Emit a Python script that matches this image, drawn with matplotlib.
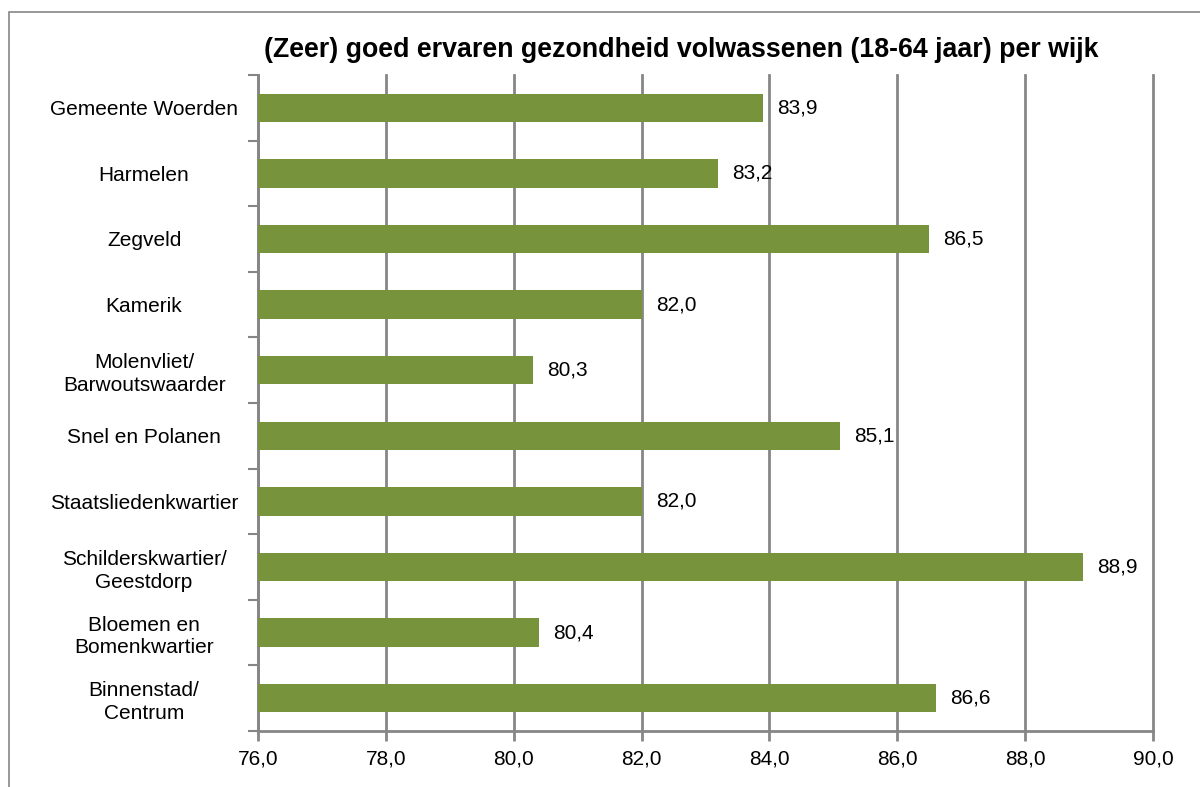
import numpy as np
import matplotlib.pyplot as plt
from matplotlib.patches import Rectangle

plt.rcParams['font.family'] = ['Liberation Sans', 'DejaVu Sans']

# data
wijken = ['Gemeente Woerden', 'Harmelen', 'Zegveld', 'Kamerik',
          'Molenvliet/\nBarwoutswaarder', 'Snel en Polanen',
          'Staatsliedenkwartier', 'Schilderskwartier/\nGeestdorp',
          'Bloemen en\nBomenkwartier', 'Binnenstad/\nCentrum']
waarden = [83.9, 83.2, 86.5, 82.0, 80.3, 85.1, 82.0, 88.9, 80.4, 86.6]
xticks = [76, 78, 80, 82, 84, 86, 88, 90]

grijs = '#868686'
groen = '#77933C'

fig = plt.figure(figsize=(12, 7.87), dpi=100)
# kader rond de grafiek
fig.patches.append(Rectangle((9/1200, -0.01), 1.2, 1 - 12/787 + 0.01,
                             transform=fig.transFigure, fill=False,
                             edgecolor=grijs, linewidth=1.2))

ax = fig.add_axes([258/1200, 1 - 731/787, (1153 - 258)/1200, (731 - 75)/787])
y = np.arange(len(wijken))
ax.barh(y, [w - 76 for w in waarden], left=76, height=0.43, color=groen, zorder=3)

for yi, w in zip(y, waarden):
    ax.text(w + 0.22, yi, f'{w:.1f}'.replace('.', ','), va='center', ha='left',
            fontsize=15, zorder=4)

ax.set_xlim(76, 90)
ax.set_ylim(len(wijken) - 0.5, -0.5)
ax.set_xticks(xticks)
ax.set_xticklabels([f'{t:.1f}'.replace('.', ',') for t in xticks], fontsize=15)
ax.set_yticks(y)
ax.set_yticklabels(wijken, fontsize=15, ha='center', linespacing=1.25)
ax.set_yticks(np.arange(-0.5, len(wijken)), minor=True)
ax.tick_params(axis='y', which='major', length=0, pad=82)
ax.tick_params(axis='y', which='minor', length=7, width=1.5, color=grijs)
ax.tick_params(axis='x', length=7, width=2, color=grijs, pad=6)
ax.grid(axis='x', color=grijs, linewidth=2, zorder=0)
for gl in ax.get_xgridlines():
    gl.set_clip_on(False)

for s in ['top', 'right']:
    ax.spines[s].set_visible(False)
for s in ['left', 'bottom']:
    ax.spines[s].set_color(grijs)
    ax.spines[s].set_linewidth(2)

fig.text(0.568, 1 - 50/787, '(Zeer) goed ervaren gezondheid volwassenen (18-64 jaar) per wijk',
         ha='center', va='center', fontsize=19.3, fontweight='bold')

fig.savefig('out.png', dpi=100)
